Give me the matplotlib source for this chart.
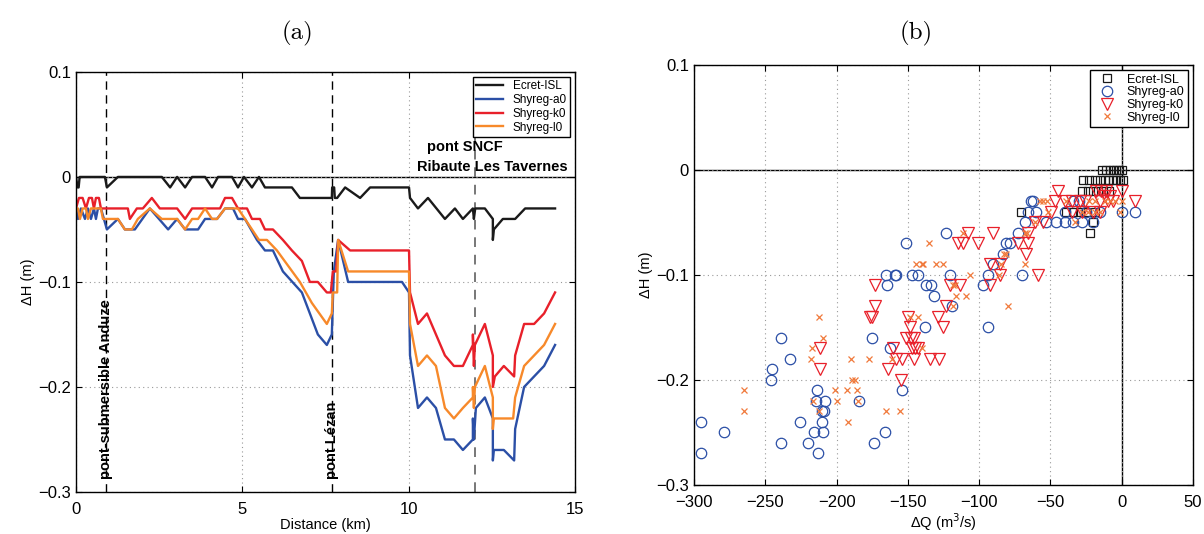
import numpy as np
import matplotlib
matplotlib.use("Agg")
import matplotlib.pyplot as plt
from matplotlib.ticker import FuncFormatter

plt.rcParams["font.family"] = ["Liberation Sans", "DejaVu Sans"]

# ---- (a) dH along the river ----
ecret_km = [0, 0.05, 0.08, 0.11, 0.15, 0.87, 0.93, 1.26, 2.58, 2.83, 3.04, 3.28, 3.49, 3.88,
            4.09, 4.27, 4.69, 4.87, 5.05, 5.29, 5.50, 5.68, 6.49, 6.73, 7.69, 7.70, 7.76,
            7.78, 7.85, 8.09, 8.54, 8.84, 10.01, 10.04, 10.28, 10.58, 11.09, 11.39, 11.63,
            11.93, 11.96, 12.0, 12.29, 12.53, 12.53, 12.56, 12.83, 13.2, 13.5, 14.4]
ecret_dh = [0, -0.01, -0.01, 0, 0, 0, -0.01, 0, 0, -0.01, 0, -0.01, 0, 0,
            -0.01, 0, 0, -0.01, 0, -0.01, 0, -0.01, -0.01, -0.02, -0.02, -0.01, -0.01,
            -0.02, -0.02, -0.01, -0.02, -0.01, -0.01, -0.02, -0.03, -0.02, -0.04, -0.03, -0.04,
            -0.03, -0.04, -0.03, -0.03, -0.04, -0.06, -0.05, -0.04, -0.04, -0.03, -0.03]

a0_km = [0, 0.06, 0.15, 0.27, 0.36, 0.45, 0.54, 0.60, 0.66, 0.75, 0.93, 1.26, 1.47, 1.77,
         2.22, 2.77, 3.04, 3.28, 3.67, 3.88, 4.24, 4.48, 4.72, 4.87, 5.08, 5.44, 5.68, 5.92,
         6.22, 6.79, 7.03, 7.27, 7.54, 7.69, 7.75, 7.88, 8.18, 9.80, 10.01, 10.04, 10.28,
         10.55, 10.82, 11.09, 11.36, 11.63, 11.93, 11.93, 11.96, 12.02, 12.29, 12.53, 12.53,
         12.56, 12.86, 13.17, 13.20, 13.47, 13.77, 14.07, 14.40]
a0_dh = [-0.03, -0.04, -0.03, -0.04, -0.03, -0.04, -0.03, -0.04, -0.03, -0.03, -0.05, -0.04,
         -0.05, -0.05, -0.03, -0.05, -0.04, -0.05, -0.05, -0.04, -0.04, -0.03, -0.03, -0.04,
         -0.04, -0.06, -0.07, -0.07, -0.09, -0.11, -0.13, -0.15, -0.16, -0.15, -0.09, -0.06,
         -0.10, -0.10, -0.11, -0.17, -0.22, -0.21, -0.22, -0.25, -0.25, -0.26, -0.25, -0.23,
         -0.25, -0.22, -0.21, -0.23, -0.27, -0.26, -0.26, -0.27, -0.24, -0.20, -0.19, -0.18,
         -0.16]

k0_km = [0, 0.09, 0.20, 0.30, 0.39, 0.48, 0.54, 0.60, 0.69, 0.75, 1.56, 1.62, 1.83, 2.01,
         2.28, 2.52, 3.04, 3.28, 3.49, 4.33, 4.48, 4.69, 4.87, 5.14, 5.29, 5.53, 5.68, 5.92,
         6.22, 6.49, 6.79, 7.03, 7.27, 7.54, 7.66, 7.72, 7.82, 7.88, 8.24, 10.01, 10.04,
         10.28, 10.55, 11.09, 11.36, 11.63, 11.93, 11.93, 11.96, 11.99, 12.29, 12.53, 12.53,
         12.59, 12.86, 13.17, 13.20, 13.47, 13.77, 14.07, 14.40]
k0_dh = [-0.03, -0.02, -0.02, -0.03, -0.02, -0.02, -0.03, -0.02, -0.02, -0.03, -0.03, -0.04,
         -0.03, -0.03, -0.02, -0.03, -0.03, -0.04, -0.03, -0.03, -0.02, -0.02, -0.03, -0.03,
         -0.04, -0.04, -0.05, -0.05, -0.06, -0.07, -0.08, -0.10, -0.10, -0.11, -0.11, -0.09,
         -0.09, -0.06, -0.07, -0.07, -0.11, -0.14, -0.13, -0.17, -0.18, -0.18, -0.16, -0.15,
         -0.18, -0.16, -0.14, -0.17, -0.20, -0.19, -0.18, -0.19, -0.17, -0.14, -0.14, -0.13,
         -0.11]

l0_km = [0, 0.06, 0.12, 0.20, 0.30, 0.36, 0.45, 0.54, 0.60, 0.75, 0.81, 1.26, 1.47, 1.68,
         1.86, 2.22, 2.58, 3.04, 3.28, 3.49, 3.67, 3.88, 4.09, 4.24, 4.48, 4.87, 5.50, 5.74,
         6.04, 6.73, 7.09, 7.54, 7.69, 7.72, 7.85, 7.88, 8.18, 10.01, 10.04, 10.28, 10.55,
         10.82, 11.09, 11.36, 11.63, 11.93, 11.93, 11.96, 11.99, 12.29, 12.53, 12.53, 12.56,
         13.14, 13.20, 13.47, 13.77, 14.07, 14.40]
l0_dh = [-0.03, -0.03, -0.04, -0.03, -0.03, -0.04, -0.03, -0.03, -0.03, -0.03, -0.04, -0.04,
         -0.05, -0.05, -0.04, -0.03, -0.04, -0.04, -0.05, -0.04, -0.04, -0.03, -0.04, -0.04,
         -0.03, -0.03, -0.06, -0.06, -0.07, -0.10, -0.12, -0.14, -0.13, -0.11, -0.11, -0.06,
         -0.09, -0.09, -0.14, -0.18, -0.17, -0.18, -0.22, -0.23, -0.22, -0.21, -0.20, -0.22,
         -0.20, -0.18, -0.21, -0.24, -0.23, -0.23, -0.21, -0.18, -0.17, -0.16, -0.14]

bridges_km = [0.9, 7.7, 12.0]

# ---- (b) dH vs dQ ----
ecret_dq = [-14, -11, -8, -6, -4, -2, 0, -27, -23, -19, -15, -12, -9, -6, -4, -1, 1,
            -28, -24, -20, -17, -13, -9, -71, -39, -34, -29, -25, -19, -20, -22]
ecret_dh2 = [0] * 7 + [-0.01] * 10 + [-0.02] * 6 + [-0.04] * 6 + [-0.05, -0.06]

a0_dq = [-295, -295, -279, -246, -245, -239, -239, -233, -226, -220, -216, -214, -214.5,
         -213, -210.5, -210, -209.5, -208, -209, -184, -175.5, -174, -166, -165, -164.5,
         -159, -158, -162.6, -154, -147, -143, -151, -123, -120.5, -94, -70, -83, -81,
         -78.5, -73, -68, -65.7, -63.3, -62, -60, -52.8, -45.8, -40, -34, -27.6, -20,
         -15.4, -34, -30, -24.8, 0, 9, -40, -137, -133.5, -132, -119, -138, -94, -97, -90]
a0_dh2 = [-0.24, -0.27, -0.25, -0.20, -0.19, -0.16, -0.26, -0.18, -0.24, -0.26, -0.25,
          -0.21, -0.22, -0.27, -0.23, -0.24, -0.25, -0.22, -0.23, -0.22, -0.16, -0.26,
          -0.25, -0.10, -0.11, -0.10, -0.10, -0.17, -0.21, -0.10, -0.10, -0.07, -0.06,
          -0.10, -0.10, -0.10, -0.08, -0.07, -0.07, -0.06, -0.05, -0.04, -0.03, -0.03,
          -0.04, -0.05, -0.05, -0.05, -0.05, -0.05, -0.05, -0.04, -0.03, -0.03, -0.04,
          -0.04, -0.04, -0.04, -0.11, -0.11, -0.12, -0.13, -0.15, -0.15, -0.11, -0.09]

k0_dq = [-211.7, -211.7, -176.6, -175, -173, -173, -164, -160.5, -158, -154.5, -151, -148,
         -150, -148.6, -147, -146, -145, -154, -146, -143, -134.6, -128, -129, -125.7, -123,
         -120.5, -113.5, -92.5, -85.5, -67, -92.5, -85.5, -58.7, -107.7, -90, -114.7, -111,
         -100.7, -65.7, -73, -66, -61, -55, -49.3, -44.6, -47, -40, -35, -29.4, -26, -15.4,
         -35, -28, -20, -15, -17.8, -14.3, -10.7, 0, -9.6, -6, 9, -12, -8]
k0_dh2 = [-0.17, -0.19, -0.14, -0.14, -0.11, -0.13, -0.19, -0.17, -0.18, -0.20, -0.16,
          -0.16, -0.14, -0.15, -0.17, -0.18, -0.17, -0.18, -0.16, -0.17, -0.18, -0.18,
          -0.14, -0.15, -0.13, -0.11, -0.11, -0.09, -0.09, -0.08, -0.11, -0.10, -0.10,
          -0.06, -0.06, -0.07, -0.07, -0.07, -0.06, -0.07, -0.07, -0.05, -0.05, -0.04,
          -0.02, -0.03, -0.03, -0.03, -0.03, -0.03, -0.03, -0.04, -0.04, -0.04, -0.04,
          -0.02, -0.02, -0.02, -0.02, -0.03, -0.03, -0.03, -0.025, -0.025]

l0_dq = [-265, -265, -212.4, -209.4, -217.5, -218, -216.4, -212, -201, -200, -193, -192,
         -190, -189.5, -187, -185.6, -185, -177, -165, -155.6, -161, -148.6, -143, -144,
         -135, -111, -140.4, -139.3, -130, -125.7, -106.5, -84.5, -82.7, -68, -66.4, -68,
         -61, -57.5, -55, -52.6, -51.6, -38.8, -33, -28, -24, -19, -15, -23, -19, -11.7,
         -8, -5, 0, -1.4, -118, -117, -116, -109, -118, -140.4, -79.7, -86, -81]
l0_dh2 = [-0.21, -0.23, -0.14, -0.16, -0.17, -0.18, -0.22, -0.23, -0.21, -0.22, -0.21,
          -0.24, -0.18, -0.20, -0.20, -0.21, -0.22, -0.18, -0.23, -0.23, -0.18, -0.14,
          -0.14, -0.09, -0.07, -0.06, -0.09, -0.09, -0.09, -0.09, -0.10, -0.09, -0.08,
          -0.06, -0.06, -0.09, -0.05, -0.03, -0.03, -0.03, -0.04, -0.03, -0.05, -0.04,
          -0.04, -0.04, -0.04, -0.03, -0.03, -0.03, -0.03, -0.03, -0.03, -0.04, -0.11,
          -0.11, -0.12, -0.12, -0.13, -0.17, -0.13, -0.10, -0.08]

series = ["Ecret-ISL", "Shyreg-a0", "Shyreg-k0", "Shyreg-l0"]
BLACK, BLUE, RED, ORANGE = "#1a1a1a", "#2b4fa6", "#e8202a", "#f7892a"


def fmt(v, pos):
    s = "%g" % round(v, 6)
    return s.replace("-", "\u2212")


def style(ax):
    ax.tick_params(direction="in", top=True, right=True, labelsize=12, length=4)
    ax.tick_params(axis="x", pad=7)
    ax.grid(True, linestyle=(0, (1, 3)), color="#999999", linewidth=0.8)
    ax.yaxis.set_major_formatter(FuncFormatter(fmt))
    ax.xaxis.set_major_formatter(FuncFormatter(fmt))
    for s in ax.spines.values():
        s.set_linewidth(1.0)


fig = plt.figure(figsize=(12.04, 5.34), dpi=100)
axa = fig.add_axes([0.0631, 0.0787, 0.4145, 0.7866])
axb = fig.add_axes([0.5764, 0.0918, 0.4145, 0.7866])

# (a)
axa.axhline(0, color="black", lw=1.0, zorder=1)
axa.axvline(bridges_km[0], color="black", lw=1.0, ls=(0, (6, 4)), zorder=1)
axa.axvline(bridges_km[1], color="black", lw=1.0, ls=(0, (6, 4)), zorder=1)
axa.axvline(bridges_km[2], color="#777777", lw=1.4, ls=(0, (5, 4)), zorder=1)
lw = 1.7
axa.plot(ecret_km, ecret_dh, color=BLACK, lw=lw, label=series[0])
axa.plot(a0_km, a0_dh, color=BLUE, lw=lw, label=series[1])
axa.plot(k0_km, k0_dh, color=RED, lw=lw, label=series[2])
axa.plot(l0_km, l0_dh, color=ORANGE, lw=lw, label=series[3])
axa.set_xlim(0, 15)
axa.set_ylim(-0.3, 0.1)
axa.set_xticks([0, 5, 10, 15])
axa.set_yticks([-0.3, -0.2, -0.1, 0, 0.1])
style(axa)
axa.set_xlabel("Distance (km)", fontsize=10.5, labelpad=1)
axa.set_ylabel("\u0394H (m)", fontsize=10.5, labelpad=2)
axa.text(0.9, -0.288, "pont-submersible Anduze", rotation=90, ha="center", va="bottom",
         fontsize=10.5, fontweight="bold")
axa.text(7.7, -0.288, "pont L\u00e9zan", rotation=90, ha="center", va="bottom",
         fontsize=10.5, fontweight="bold")
axa.text(11.69, 0.0286, "pont SNCF", ha="center", va="center", fontsize=10.5,
         fontweight="bold")
axa.text(12.5, 0.0095, "Ribaute Les Tavernes", ha="center", va="center", fontsize=10.5,
         fontweight="bold")
leg = axa.legend(loc="upper right", fontsize=8.5, fancybox=False, edgecolor="black",
                 framealpha=1, borderaxespad=0.4, handlelength=2.3, labelspacing=0.15,
                 borderpad=0.3)
leg.get_frame().set_linewidth(1.0)

# (b)
axb.axhline(0, color="black", lw=1.0, zorder=1)
axb.axvline(0, color="black", lw=1.0, zorder=1)
axb.plot(ecret_dq, ecret_dh2, ls="none", marker="s", ms=6, mfc="none", mec=BLACK,
         mew=0.9, label=series[0])
axb.plot(a0_dq, a0_dh2, ls="none", marker="o", ms=7.5, mfc="none", mec=BLUE,
         mew=0.9, label=series[1])
axb.plot(k0_dq, k0_dh2, ls="none", marker="v", ms=8.5, mfc="none", mec=RED,
         mew=0.9, label=series[2])
axb.plot(l0_dq, l0_dh2, ls="none", marker="x", ms=5, mfc="none", mec="#f07a3c",
         mew=0.9, label=series[3])
axb.set_xlim(-300, 50)
axb.set_ylim(-0.3, 0.1)
axb.set_xticks(np.arange(-300, 51, 50))
axb.set_yticks([-0.3, -0.2, -0.1, 0, 0.1])
style(axb)
axb.set_xlabel("\u0394Q (m$^3$/s)", fontsize=10.5, labelpad=1)
axb.set_ylabel("\u0394H (m)", fontsize=10.5, labelpad=2)
leg = axb.legend(loc="upper right", fontsize=9, fancybox=False, edgecolor="black",
                 framealpha=1, borderaxespad=0.4, handlelength=2.0, labelspacing=0.05,
                 borderpad=0.3, handletextpad=0.6)
leg.get_frame().set_linewidth(1.0)

fig.text(297 / 1204, 1 - 33 / 534, "(a)", ha="center", va="center", fontsize=18,
         family="cmr10")
fig.text(916 / 1204, 1 - 33 / 534, "(b)", ha="center", va="center", fontsize=18,
         family="cmr10")

fig.savefig("out.png", dpi=100)
